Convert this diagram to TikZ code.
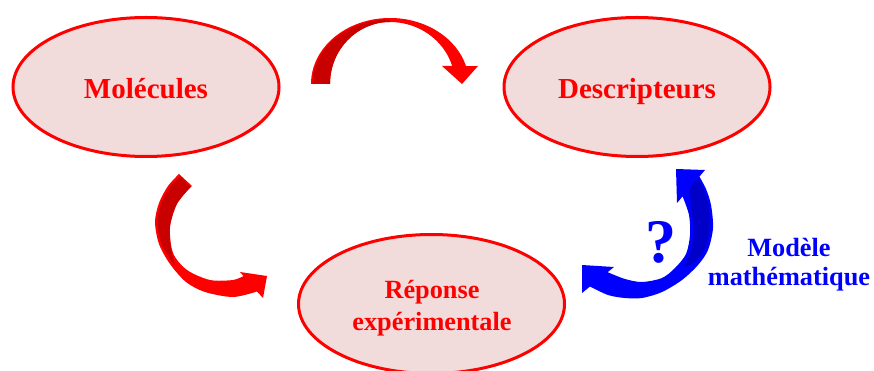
\documentclass[tikz,border=0pt]{standalone}
\usepackage{fontspec}
\setmainfont{Liberation Serif}
\usetikzlibrary{shapes.geometric}
\definecolor{ellfill}{HTML}{F2DCDB}
\definecolor{rdark}{HTML}{C80000}
\definecolor{bdark}{HTML}{0000C8}
\begin{document}
\begin{tikzpicture}[x=1pt,y=-1pt,
  bubble/.style={ellipse, draw=red, line width=3pt, fill=ellfill,
    minimum width=266pt, minimum height=139pt, inner sep=0pt},
  biglbl/.style={text=red, font=\bfseries\fontsize{29}{32}\selectfont, anchor=base, inner sep=0pt},
  midlbl/.style={text=red, font=\bfseries\fontsize{26.3}{32}\selectfont, anchor=base, align=center, inner sep=0pt},
  bluelbl/.style={text=blue, font=\bfseries\fontsize{26.3}{29}\selectfont, anchor=base, align=center, inner sep=0pt},
  qlbl/.style={text=blue, font=\bfseries\fontsize{62}{62}\selectfont, anchor=base, inner sep=0pt},
  frontred/.style={fill=red},
  backred/.style={fill=rdark},
  frontblue/.style={fill=blue},
  backblue/.style={fill=bdark}]
\useasboundingbox (0,0) rectangle (874,371);

% ellipses
\node[bubble] (mol) at (146,87) {};
\node[bubble] (desc) at (637,87) {};
\node[bubble] (rep) at (431.5,304) {};

% labels (anchor base = baseline of the last line)
\node[biglbl] (moltxt) at (146,99) {Molécules};
\node[biglbl] (desctxt) at (637,99) {Descripteurs};
\node[midlbl] (reptxt) at (432,330) {Réponse\\expérimentale};
\node[bluelbl] (modtxt) at (789,285) {Modèle\\mathématique};
\node[qlbl] (q) at (660.5,262) {?};

% top red curved arrow (Molécules -> Descripteurs)
\fill[frontred] (311,84) arc[start angle=180,end angle=270,x radius=79,y radius=66]
  -- (390,22) arc[start angle=270,end angle=180,x radius=60,y radius=62] -- cycle;
\fill[backred] (312.5,84) arc[start angle=180,end angle=270,x radius=77.5,y radius=64.5]
  -- (390,22) arc[start angle=270,end angle=180,x radius=60,y radius=62] -- cycle;
\fill[frontred] (390,18) arc[start angle=270,end angle=344.2,x radius=79,y radius=66]
  -- (478,66) -- (462,84) -- (442,66) -- (452.2,66)
  arc[start angle=343.1,end angle=270,x radius=65,y radius=62] -- cycle;

% left red curved arrow (Molécules -> Réponse)
\fill[frontred] plot[smooth] coordinates {(179,174) (168,186) (159,203) (155,222) (159,244) (170,264) (186,282) (205,292) (233,297) (257,291.5)}
  -- (263,298) -- (267,276) -- (240,272) -- (243.5,276)
  -- plot[smooth] coordinates {(243.5,276) (233,280) (210,280) (187,270) (173,253) (170,227) (177,203) (192,186)}
  -- cycle;
\fill[backred] plot[smooth] coordinates {(180.5,176.5) (170,187) (161,204) (157.5,222) (161.5,244) (175,266)}
  -- plot[smooth] coordinates {(175,266) (170.5,245) (170,226) (177,204) (190.5,187)}
  -- cycle;

% blue curved arrow (Descripteurs <-> Réponse)
\fill[frontblue] (676,169) -- (705,170) -- (699.4,176.6)
  -- plot[smooth] coordinates {(699.4,176.6) (706,189) (711,205) (713,228) (708,250) (698,265) (682,280) (662,292) (642,298) (625,298) (608,295) (590,286.5)}
  -- (582,293) -- (582,265) -- (614,267) -- (607.6,272.2)
  -- plot[smooth] coordinates {(607.6,272.2) (625,279) (642,282) (662,278) (675,268) (686,254) (690,235) (689,215) (682.6,196.4)}
  -- (677,203) -- cycle;
\fill[backblue] (698,178.5) -- (689.6,188)
  -- plot[smooth] coordinates {(689.6,188) (691.5,210) (693.5,230) (691,250) (684,267)}
  -- plot[smooth] coordinates {(684,267) (695,262) (704.5,249) (709.5,228) (708.5,206) (704,191) (698,178.5)}
  -- cycle;
\end{tikzpicture}
\end{document}
